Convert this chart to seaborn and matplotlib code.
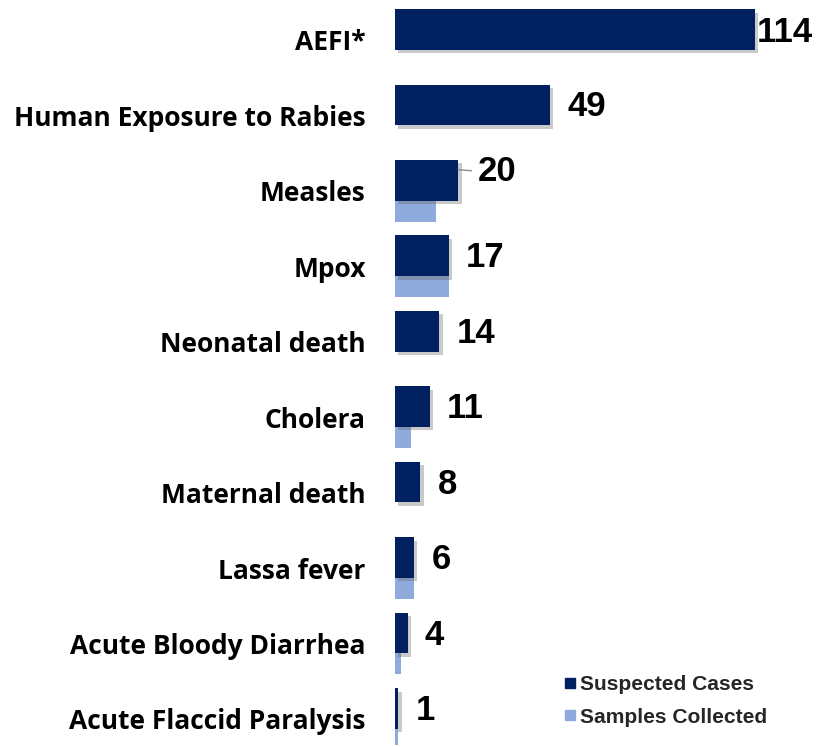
import numpy as np
import pandas as pd
import matplotlib
matplotlib.use("Agg")
import matplotlib.pyplot as plt
import matplotlib.patheffects as pe
from matplotlib.lines import Line2D
import seaborn as sns

categories = ["AEFI*", "Human Exposure to Rabies", "Measles", "Mpox", "Neonatal death",
              "Cholera", "Maternal death", "Lassa fever", "Acute Bloody Diarrhea",
              "Acute Flaccid Paralysis"]
suspected_cases = [114, 49, 20, 17, 14, 11, 8, 6, 4, 1]
samples_collected = [0, 0, 13, 17, 0, 5, 0, 6, 2, 1]
series_names = ["Suspected Cases", "Samples Collected"]

DARK = "#002060"
LIGHT = "#8FAADC"

sns.set_style("white")
plt.rcParams["font.family"] = ["Open Sans", "DejaVu Sans"]

W, H = 818, 747
fig = plt.figure(figsize=(W / 100, H / 100), dpi=100)
ax = fig.add_axes([395 / W, (747 - 745) / H, (805 - 395) / W, (745 - 2) / H])

pos = np.arange(len(categories), dtype=float)
off = 0.14
bw = 0.54

df_s = pd.DataFrame({"value": samples_collected, "pos": pos + off})
df_c = pd.DataFrame({"value": suspected_cases, "pos": pos - off})

sns.barplot(data=df_s, x="value", y="pos", orient="y", native_scale=True,
            width=bw, color=LIGHT, saturation=1, linewidth=0, ax=ax, zorder=2)
n_light = len(ax.patches)
sns.barplot(data=df_c, x="value", y="pos", orient="y", native_scale=True,
            width=bw, color=DARK, saturation=1, linewidth=0, ax=ax, zorder=3)
for p in ax.patches[n_light:]:
    p.set_path_effects([pe.SimplePatchShadow(offset=(2.5, -2.5), shadow_rgbFace="#666666", alpha=0.35),
                        pe.Normal()])

ax.set_xlim(0, 410 / (360 / 114))
ax.set_ylim((745 - 40) / 75.44, (2 - 40) / 75.44)

ax.set_yticks(pos)
ax.set_yticklabels(categories, fontsize=19, fontweight="bold", color="black")
ax.tick_params(axis="y", length=0, pad=21)
ax.set_xticks([])
ax.set_xlabel("")
ax.set_ylabel("")
for s in ax.spines.values():
    s.set_visible(False)

lab_font = dict(family=["Liberation Sans", "DejaVu Sans"], fontsize=25, fontweight="bold", color="black")
for i, v in enumerate(suspected_cases):
    y = pos[i] - off
    if v == 114:
        ax.annotate(str(v), xy=(v, y), xytext=(1.5, -2), textcoords="offset points",
                    ha="left", va="center", **lab_font)
    elif v == 20:
        ax.annotate(str(v), xy=(v, y - 0.14), xytext=(14, -1), textcoords="offset points",
                    ha="left", va="center",
                    arrowprops=dict(arrowstyle="-", color="#8c8c8c", lw=1,
                                    shrinkA=2, shrinkB=0, relpos=(0, 0.5)),
                    **lab_font)
    else:
        ax.annotate(str(v), xy=(v, y), xytext=(12.5, -1.5), textcoords="offset points",
                    ha="left", va="center", **lab_font)

handles = [Line2D([], [], marker="s", linestyle="none", markersize=7.5, color=c) for c in (DARK, LIGHT)]
leg = fig.legend(handles, series_names, loc="center left",
                 bbox_to_anchor=(553 / W, (747 - 701) / H), frameon=False,
                 prop=dict(family=["Liberation Sans", "DejaVu Sans"], size=15.1, weight="bold"),
                 handlelength=0.6, handletextpad=0.2, labelspacing=0.62, borderpad=0)

fig.savefig("out.png", dpi=100)
